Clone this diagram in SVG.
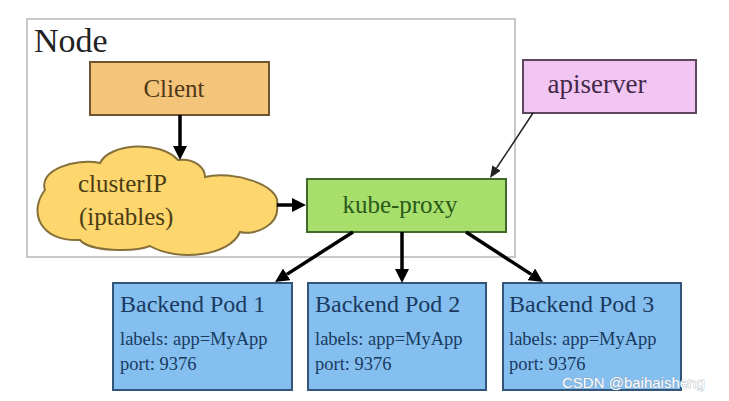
<svg xmlns="http://www.w3.org/2000/svg" width="729" height="401" viewBox="0 0 729 401">
<style>
.serif{font-family:"Liberation Serif","Times New Roman",serif}
.box{stroke-width:2}
.conn{stroke:#000;stroke-width:3.5;fill:none}
.thin{stroke:#222;stroke-width:1.5;fill:none}
.pod rect{fill:#84bff0;stroke:#33557a;stroke-width:2}
.pod .t1{font-size:24px;fill:#1a3a60}
.pod .t2{font-size:18.5px;fill:#1a3a60}
</style>
<defs>
<marker id="ah" markerUnits="userSpaceOnUse" viewBox="0 0 14 14" markerWidth="14" markerHeight="14" refX="0" refY="7" orient="auto">
<path d="M0,0 L14,7 L0,14 z" fill="#000"/>
</marker>
<marker id="ahs" markerUnits="userSpaceOnUse" viewBox="0 0 12 10" markerWidth="12" markerHeight="10" refX="0" refY="5" orient="auto">
<path d="M0,0 L12,5 L0,10 z" fill="#222"/>
</marker>
</defs>
<rect width="729" height="401" fill="#fff"/>
<g id="node-container">
<rect x="27" y="19" width="488" height="238" fill="none" stroke="#c8c8c8" stroke-width="2"/>
<text class="serif" x="34" y="52" font-size="34" fill="#222">Node</text>
</g>
<g id="client">
<rect class="box" x="90" y="62" width="179" height="53" fill="#f4c47a" stroke="#6e5530"/>
<text class="serif" x="174" y="97" font-size="25" fill="#4e3818" text-anchor="middle">Client</text>
</g>
<g id="clusterip">
<path d="M45,190 C38,170 75,158 100,163 C110,143 160,140 178,160 C195,158 205,168 205,177 C232,170 282,185 277,205 C280,225 255,236 240,232 C230,256 178,262 150,246 C135,252 90,252 80,240 C40,242 28,212 45,190 Z" fill="#fdd66e" stroke="#86703a" stroke-width="2"/>
<text class="serif" x="78" y="192" font-size="25" fill="#4a3c14">clusterIP</text>
<text class="serif" x="79" y="225" font-size="25" fill="#4a3c14">(iptables)</text>
</g>
<g id="kube-proxy">
<rect class="box" x="307" y="179" width="199" height="53" fill="#a8df6c" stroke="#3f6a2c"/>
<text class="serif" x="400" y="213" font-size="25" fill="#2a5a1a" text-anchor="middle">kube-proxy</text>
</g>
<g id="apiserver">
<rect class="box" x="523" y="60" width="173" height="53" fill="#f2c6f2" stroke="#5e465e"/>
<text class="serif" x="597" y="93" font-size="27" fill="#43284a" text-anchor="middle">apiserver</text>
</g>
<g id="pod1" class="pod">
<rect x="113" y="283" width="179" height="107"/>
<text class="serif t1" x="120" y="312">Backend Pod 1</text>
<text class="serif t2" x="120" y="345">labels: app=MyApp</text>
<text class="serif t2" x="120" y="370">port: 9376</text>
</g>
<g id="pod2" class="pod">
<rect x="308" y="283" width="178" height="107"/>
<text class="serif t1" x="315" y="312">Backend Pod 2</text>
<text class="serif t2" x="315" y="345">labels: app=MyApp</text>
<text class="serif t2" x="315" y="370">port: 9376</text>
</g>
<g id="pod3" class="pod">
<rect x="503" y="283" width="178" height="107"/>
<text class="serif t1" x="509" y="312">Backend Pod 3</text>
<text class="serif t2" x="509" y="345">labels: app=MyApp</text>
<text class="serif t2" x="509" y="370">port: 9376</text>
</g>
<g id="connectors">
<line class="conn" x1="180" y1="115" x2="180" y2="146" marker-end="url(#ah)"/>
<line class="conn" x1="277" y1="205" x2="292" y2="205" marker-end="url(#ah)"/>
<line class="conn" x1="353" y1="232" x2="286.8" y2="274.4" marker-end="url(#ah)"/>
<line class="conn" x1="402" y1="232" x2="402" y2="269" marker-end="url(#ah)"/>
<line class="conn" x1="466" y1="232" x2="531.3" y2="274.4" marker-end="url(#ah)"/>
<line class="thin" x1="533" y1="113" x2="496.6" y2="168" marker-end="url(#ahs)"/>
</g>
<text x="562" y="388" font-family="Liberation Sans, Arial, sans-serif" font-size="15" fill="#ffffff" stroke="#8a96a4" stroke-width="0.6" paint-order="stroke">CSDN @baihaisheng</text>
</svg>
